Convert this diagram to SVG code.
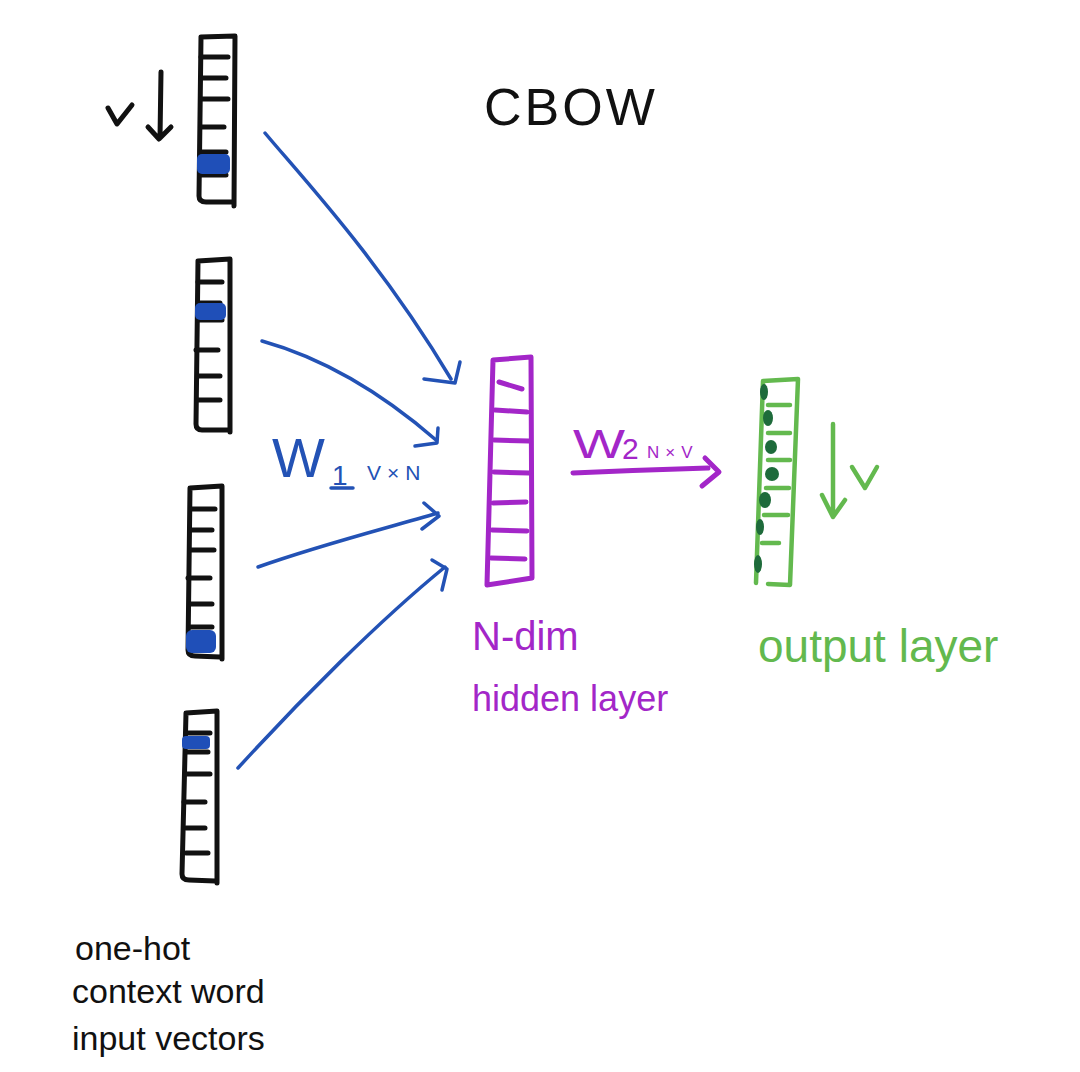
<svg xmlns="http://www.w3.org/2000/svg" width="1080" height="1072" viewBox="0 0 1080 1072">
<style>
  .k{fill:none;stroke:#111;stroke-width:5;stroke-linecap:round;stroke-linejoin:round}
  .b{fill:none;stroke:#2352b5;stroke-width:3.5;stroke-linecap:round;stroke-linejoin:round}
  .p{fill:none;stroke:#a326c8;stroke-width:5;stroke-linecap:round;stroke-linejoin:round}
  .g{fill:none;stroke:#63b94e;stroke-width:4.5;stroke-linecap:round;stroke-linejoin:round}
  .blob{fill:#1f4fb8}
  .gblob{fill:#1e6b3b}
  .t{font-family:"Liberation Sans",Arial,sans-serif}
</style>
<rect width="1080" height="1072" fill="#fff"/>

<g id="title"><text class="t" x="484" y="125" font-size="52" letter-spacing="3" fill="#111">CBOW</text></g>

<g id="input1">
  <path class="k" d="M201,37 L235,36 L234,206 M201,37 L199,196 Q199,202 206,202 L233,202"/>
  <path class="k" d="M201,57 H228 M201,78 H226 M201,99 H228 M201,127 H224 M201,152 H226 M201,175 H226"/>
  <rect class="blob" x="197" y="154" width="33" height="20" rx="5"/>
  <path class="k" d="M108,108 L117,124 L132,105" stroke-width="4"/>
  <path class="k" d="M161,72 L160,138 M148,127 L159,139 L171,127" stroke-width="4"/>
</g>

<g id="input2">
  <path class="k" d="M198,261 L230,259 L230,432 M198,261 L196,424 Q196,430 202,430 L228,430"/>
  <path class="k" d="M198,282 H222 M198,303 H220 M198,320 H222 M196,350 H218 M198,376 H220 M198,400 H220"/>
  <rect class="blob" x="195" y="303" width="31" height="17" rx="5"/>
</g>

<g id="input3">
  <path class="k" d="M190,488 L222,486 L222,659 M190,488 L188,650 Q188,656 195,656 L220,657"/>
  <path class="k" d="M191,509 H215 M191,530 H212 M191,550 H214 M188,578 H210 M191,604 H212 M191,627 H212"/>
  <rect class="blob" x="186" y="630" width="30" height="23" rx="6"/>
</g>

<g id="input4">
  <path class="k" d="M186,713 L217,711 L217,883 M186,713 L182,874 Q182,880 189,880 L215,881"/>
  <path class="k" d="M186,733 H210 M186,752 H208 M186,774 H210 M184,802 H205 M186,828 H205 M186,853 H208"/>
  <rect class="blob" x="182" y="736" width="28" height="13" rx="4"/>
</g>

<g id="input-label" fill="#111">
  <text class="t" x="75" y="960" font-size="34">one-hot</text>
  <text class="t" x="72" y="1003" font-size="34">context word</text>
  <text class="t" x="72" y="1050" font-size="34">input vectors</text>
</g>

<g id="connectors">
  <path class="b" d="M265,133 C300,175 380,260 451,379"/>
  <path class="b" d="M424,379 L455,383 L460,362"/>
  <path class="b" d="M262,341 C330,360 390,400 436,440"/>
  <path class="b" d="M415,446 L437,443 L438,428"/>
  <path class="b" d="M258,567 C320,545 380,530 438,513"/>
  <path class="b" d="M424,503 L439,516 L422,529"/>
  <path class="b" d="M238,768 C300,700 380,620 445,567"/>
  <path class="b" d="M432,560 L447,569 L442,590"/>
  <path class="p" d="M573,473 Q640,470 708,468"/>
  <path class="p" d="M705,458 L719,472 L702,486"/>
</g>

<g id="w1-label" fill="#2352b5">
  <text class="t" x="272" y="477" font-size="56">W</text>
  <text class="t" x="332" y="485" font-size="28">1</text>
  <path class="b" d="M331,488 H353"/>
  <text class="t" x="367" y="480" font-size="21" letter-spacing="6">V×N</text>
</g>

<g id="w2-label" fill="#a326c8">
  <text class="t" x="573" y="458" font-size="40" textLength="52" lengthAdjust="spacingAndGlyphs">W</text>
  <text class="t" x="622" y="459" font-size="30">2</text>
  <text class="t" x="647" y="458" font-size="17" letter-spacing="6">N×V</text>
</g>

<g id="hidden">
  <path class="p" d="M493,360 L531,357 L532,578 L487,585 Z"/>
  <path class="p" d="M499,382 L522,389 M495,410 L527,412 M494,440 L529,441 M494,472 L529,473 M493,503 L526,502 M492,530 L527,531 M491,558 L525,559"/>
  <text class="t" x="472" y="650" font-size="40" fill="#a326c8">N-dim</text>
  <text class="t" x="472" y="711" font-size="36" fill="#a326c8">hidden layer</text>
</g>

<g id="output">
  <path class="g" d="M763,381 L798,379 L790,585 L768,584 M763,381 L756,583"/>
  <path class="g" d="M768,405 H790 M768,433 H790 M768,460 H790 M766,488 H789 M764,515 H788 M762,543 H779"/>
  <ellipse class="gblob" cx="764" cy="392" rx="4" ry="8"/>
  <ellipse class="gblob" cx="768" cy="418" rx="5" ry="8"/>
  <ellipse class="gblob" cx="771" cy="447" rx="6" ry="7"/>
  <ellipse class="gblob" cx="772" cy="474" rx="7" ry="7"/>
  <ellipse class="gblob" cx="765" cy="500" rx="6" ry="8"/>
  <ellipse class="gblob" cx="760" cy="527" rx="4" ry="8"/>
  <ellipse class="gblob" cx="758" cy="564" rx="4" ry="9"/>
  <path class="g" d="M833,424 L833,516 M822,495 L833,517 L845,500"/>
  <path class="g" d="M852,467 L865,488 L877,467"/>
  <text class="t" x="758" y="662" font-size="46" fill="#63b94e">output layer</text>
</g>
</svg>
